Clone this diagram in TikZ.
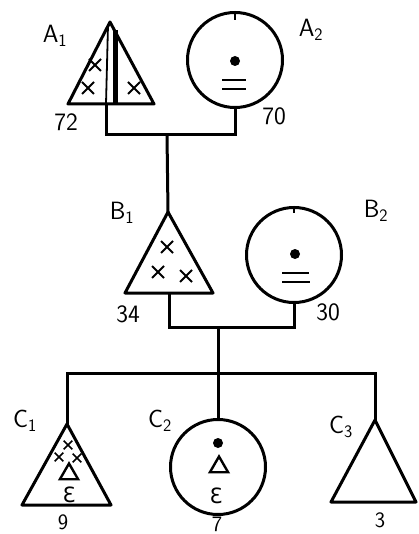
\documentclass[tikz,border=0pt]{standalone}
\usepackage{fontspec}
\usepackage{tikz}
\usetikzlibrary{shapes.geometric, shapes.misc, positioning}
\newfontfamily\symfont{DejaVu Sans}

\tikzset{
  female/.style={circle, draw, line width=3pt, minimum size=95pt, inner sep=0pt},
  tri/.style={line width=3pt, line join=round},
  link/.style={line width=3pt},
  tag/.style={font=\sffamily\fontsize{25}{30}\selectfont, inner sep=0pt},
  numtag/.style={tag, font=\sffamily\fontsize{22}{26}\selectfont},
  xsign/.style={cross out, draw, line width=2pt, minimum size=10pt, inner sep=0pt},
  smallx/.style={xsign, minimum size=7pt, line width=1.6pt},
  dot/.style={circle, fill, minimum size=10pt, inner sep=0pt},
  delta/.style={regular polygon, regular polygon sides=3, draw, line width=2.4pt, minimum size=21pt, inner sep=0pt},
  eps/.style={font=\symfont\fontsize{21}{21}\selectfont, inner sep=0pt}
}

\begin{document}
\begin{tikzpicture}[x=1pt, y=-1pt]
    \useasboundingbox (0,0) rectangle (419,534);

    % Generation A
    \draw[tri] (110,22) coordinate (A1top) -- (154,104) -- (68,104) -- cycle;
    \coordinate (A1foot) at (106,104);
    \draw[line width=1.8pt] (108,25) -- (A1foot);
    \draw[line width=5pt] (115,30) -- (115,104);
    \node[xsign] (A1x1) at (95,65) {};
    \node[xsign] (A1x2) at (88,88) {};
    \node[xsign] (A1x3) at (134,88) {};
    \node[tag] (A1lab) at (55,36) {A\textsubscript{1}};
    \node[tag] (A1num) at (66,122) {72};

    \node[female] (A2) at (235,60) {};
    \draw[line width=1.2pt] (A2.north) -- ++(0,9);
    \node[dot] (A2dot) at (235,61) {};
    \draw[line width=2pt] (222,80) -- (246,80);
    \draw[line width=2pt] (222,89) -- (246,89);
    \node[tag] (A2lab) at (311,30) {A\textsubscript{2}};
    \node[tag] (A2num) at (274,116) {70};

    % marriage A and child B1
    \coordinate (Abar) at (167,135);
    \draw[link] (A1foot) |- (Abar) -| (A2.south);

    % Generation B
    \draw[tri] (168,212) coordinate (B1top) -- (213,293) -- (125,293) -- cycle;
    \coordinate (B1foot) at (169,293);
    \node[xsign] (B1x1) at (167,247) {};
    \node[xsign] (B1x2) at (158,272) {};
    \node[xsign] (B1x3) at (186,276) {};
    \node[tag] (B1lab) at (122,213) {B\textsubscript{1}};
    \node[tag] (B1num) at (128,314) {34};
    \draw[link] (Abar) -- (B1top);

    \node[female] (B2) at (294,255) {};
    \draw[line width=1.2pt] (B2.north) -- ++(0,7);
    \node[dot] (B2dot) at (295,254) {};
    \draw[line width=2pt] (282,273) -- (309,273);
    \draw[line width=2pt] (282,282) -- (310,282);
    \node[tag] (B2lab) at (376,211) {B\textsubscript{2}};
    \node[tag] (B2num) at (328,312) {30};

    % marriage B and children C
    \coordinate (Bbar) at (218,327);
    \draw[link] (B1foot) |- (Bbar) -| (B2.south);
    \coordinate (Cbar) at (218,373);
    \draw[link] (Bbar) -- (Cbar);

    % Generation C
    \draw[tri] (67,424) coordinate (C1top) -- (111,505) -- (22,505) -- cycle;
    \node[smallx] (C1x1) at (68,445) {};
    \node[smallx] (C1x2) at (59,457) {};
    \node[smallx] (C1x3) at (77,458) {};
    \node[delta] (C1d) at (69,474) {};
    \node[eps] (C1e) at (69,495) {Ɛ};
    \node[tag] (C1lab) at (25,421) {C\textsubscript{1}};
    \node[numtag] (C1num) at (63,522) {9};

    \node[female] (C2) at (218,467) {};
    \node[dot] (C2dot) at (218,443) {};
    \node[delta] (C2d) at (219,467) {};
    \node[eps] (C2e) at (216,496) {Ɛ};
    \node[tag] (C2lab) at (160,421) {C\textsubscript{2}};
    \node[numtag] (C2num) at (217,524) {7};

    \draw[tri] (375,420) coordinate (C3top) -- (416,502) -- (331,502) -- cycle;
    \node[tag] (C3lab) at (341,427) {C\textsubscript{3}};
    \node[numtag] (C3num) at (380,520) {3};

    \draw[link] (C1top) |- (Cbar) -| (C3top);
    \draw[link] (Cbar) -- (C2.north);
\end{tikzpicture}
\end{document}
